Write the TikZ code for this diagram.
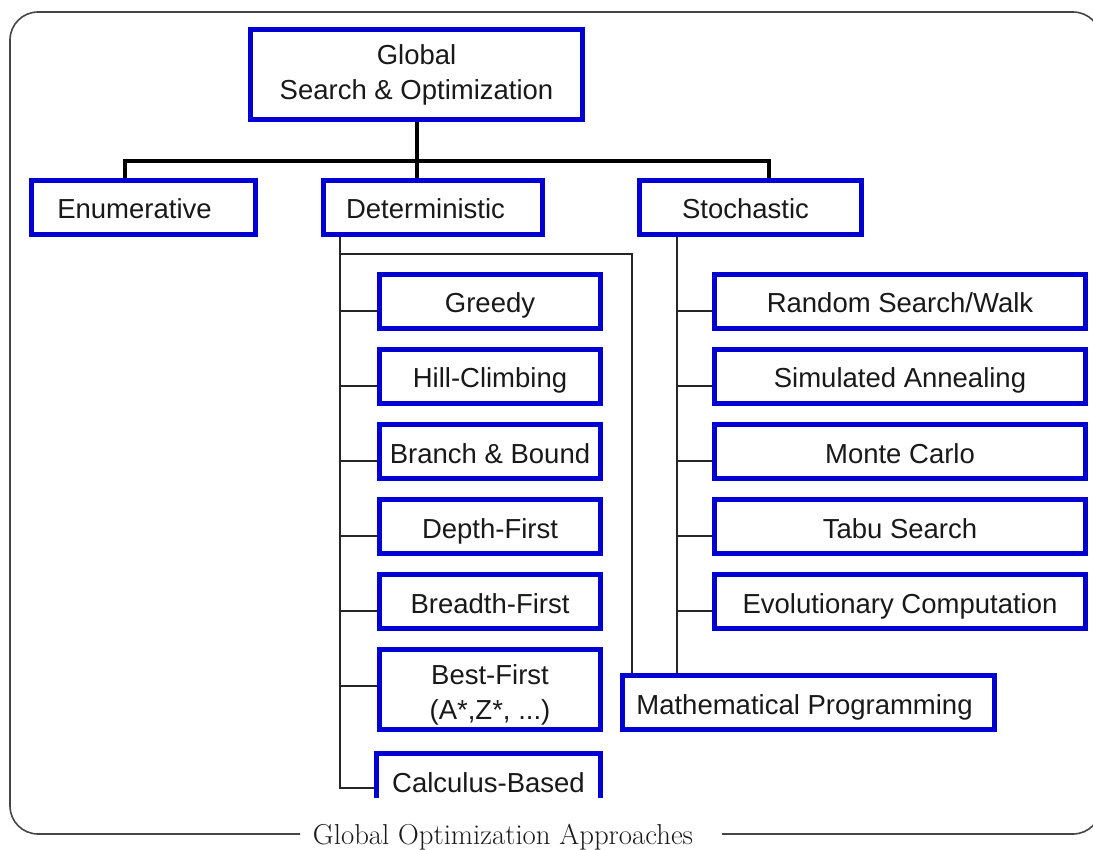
\documentclass[tikz,border=0pt]{standalone}
\usepackage{fontspec}
\newfontfamily\hv{Liberation Sans}
\usetikzlibrary{calc}
\definecolor{boxblue}{RGB}{0,0,210}
\definecolor{ink}{RGB}{25,25,25}
\definecolor{framegray}{RGB}{70,70,70}

\begin{document}
\begin{tikzpicture}[x=1pt,y=-1pt,
  tb/.style={draw=boxblue, line width=5pt, fill=white, text=ink, inner sep=0pt,
    minimum height=54pt, font=\hv\fontsize{27.5}{35}\selectfont, align=center},
  box/.style={tb, text height=23pt, text depth=0pt},
  bus/.style={line width=4.5pt, draw=black},
  thinline/.style={line width=1.3pt, draw=black!85},
  frameline/.style={line width=1.6pt, draw=framegray, rounded corners=28pt}]
\useasboundingbox (0,0) rectangle (1093,850);

% outer frame with caption
\draw[frameline] (300,834) -- (10,834) -- (10,12) -- (1101,12) -- (1101,834) -- (722,834);
\node[anchor=base, font=\fontsize{28.8}{34}\selectfont, text=ink, inner sep=0pt] (cap) at (503,844)
  {Global Optimization Approaches};

% top levels
\node[tb, minimum width=332pt, minimum height=90pt] (root) at (416.5,74.5) {Global\\Search \& Optimization};
\node[box, minimum width=224pt] (enum)  at (143.5,207.5) {Enumerative\hspace*{18pt}};
\node[box, minimum width=219pt] (det)   at (433,207.5)   {Deterministic\hspace*{15pt}};
\node[box, minimum width=222pt] (stoch) at (750.5,207.5) {Stochastic\hspace*{10pt}};

% deterministic methods
\node[box, minimum width=221pt] (g)  at (490,301.5) {Greedy};
\node[box, minimum width=221pt] (hc) at (490,376.5) {Hill-Climbing};
\node[box, minimum width=221pt] (bb) at (490,451.5) {Branch \& Bound};
\node[box, minimum width=221pt] (df) at (490,526.5) {Depth-First};
\node[box, minimum width=221pt] (bf) at (490,601.5) {Breadth-First};
\node[tb, minimum width=221pt, minimum height=80pt] (best) at (490,689.5) {\rule{0pt}{31pt}Best-First\\(A*,Z*, ...)};
\begin{scope}
  \clip (0,0) rectangle (1093,797);
  \node[box, minimum width=224pt] (calc) at (488.5,780.5) {Calculus-Based};
\end{scope}

% stochastic methods
\node[box, minimum width=371pt] (rs) at (900,301.5) {Random Search/Walk};
\node[box, minimum width=371pt] (sa) at (900,376.5) {Simulated Annealing};
\node[box, minimum width=371pt] (mc) at (900,451.5) {Monte Carlo};
\node[box, minimum width=371pt] (ts) at (900,526.5) {Tabu Search};
\node[box, minimum width=371pt] (ec) at (900,601.5) {Evolutionary Computation};

\node[box, minimum width=372pt] (mp) at (808.5,702.5) {Mathematical Programming\hspace*{8pt}};

% main bus
\coordinate (busL) at (125,161);
\coordinate (busM) at (417,161);
\coordinate (busR) at (769,161);
\draw[bus] (enum.north -| busL) -- (busL) -- (busR) -- (stoch.north -| busR);
\draw[bus] (root.south -| busM) -- (det.north -| busM);

% trunks
\coordinate (dT) at (340,254);
\coordinate (dR) at (632,254);
\coordinate (sT) at (677,254);
\draw[thinline] (det.south -| dT) -- (dT) -| (mp.north -| dR);
\draw[thinline] (stoch.south -| sT) -- (mp.north -| sT);
\path ($(calc.west)+(0,7.5)$) coordinate (tcalc);
\draw[thinline] (dT) |- (tcalc);

% branch ticks
\foreach \n/\o in {g/9.5, hc/9.5, bb/9.5, df/9.5, bf/9.5, best/-3.5}{
  \path ($(\n.west)+(0,\o)$) coordinate (t\n);
  \draw[thinline] (t\n -| dT) -- (t\n);
}
\foreach \n in {rs, sa, mc, ts, ec}{
  \path ($(\n.west)+(0,9.5)$) coordinate (t\n);
  \draw[thinline] (t\n -| sT) -- (t\n);
}
\end{tikzpicture}
\end{document}
